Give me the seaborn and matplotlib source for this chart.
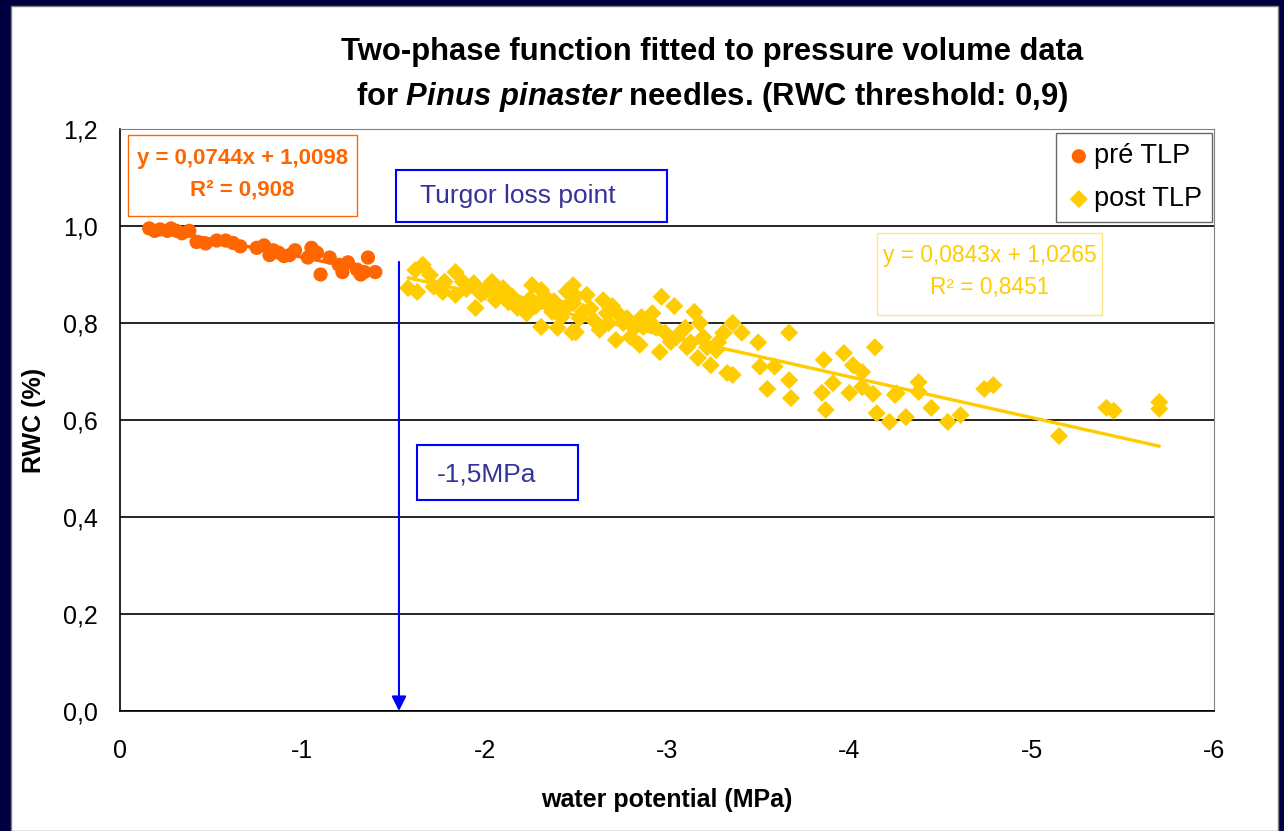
import numpy as np
import pandas as pd
import seaborn as sns
import matplotlib.pyplot as plt
from matplotlib.patches import Rectangle
from matplotlib.ticker import FuncFormatter, MultipleLocator

# pre turgor loss point (orange circles)
pre_x = [-0.16, -0.19, -0.22, -0.26, -0.28, -0.31, -0.34, -0.38, -0.42, -0.47, -0.53, -0.58,
         -0.62, -0.66, -0.75, -0.79, -0.82, -0.84, -0.87, -0.90, -0.93, -0.96, -1.03, -1.05,
         -1.08, -1.10, -1.15, -1.20, -1.22, -1.25, -1.30, -1.32, -1.34, -1.36, -1.40]
pre_y = [0.995, 0.990, 0.993, 0.990, 0.995, 0.990, 0.985, 0.990, 0.967, 0.964, 0.970, 0.970,
         0.965, 0.958, 0.955, 0.960, 0.940, 0.950, 0.945, 0.938, 0.940, 0.950, 0.935, 0.955,
         0.945, 0.900, 0.935, 0.920, 0.905, 0.925, 0.910, 0.900, 0.905, 0.935, 0.905]

# post turgor loss point (gold diamonds)
post_x = [-1.58, -1.63, -1.66, -1.62, -1.70, -1.78, -1.77, -1.84, -1.88, -1.84, -1.94, -1.95,
          -2.00, -2.04, -2.06, -2.10, -2.13, -2.18, -2.23, -2.26, -2.31, -2.34, -2.31, -2.37,
          -2.42, -2.46, -2.40, -2.48,
          -2.485, -2.56, -2.485, -2.54, -2.65, -2.67, -2.73, -2.50, -2.63, -2.72, -2.80, -2.86,
          -2.92, -2.87, -2.85, -2.97, -3.04, -2.96, -3.02, -3.07, -3.11, -3.15, -3.18, -3.20,
          -3.17, -3.24, -3.27, -3.31, -3.33,
          -3.36, -3.31, -3.41, -3.50, -3.67, -3.36, -3.51, -3.59, -3.55, -3.67, -3.68, -3.86,
          -3.91, -3.85, -3.87, -3.97, -4.02, -4.07, -4.14, -4.00, -4.07, -4.13, -4.15, -4.22,
          -4.25, -4.26, -4.31, -4.38, -4.38, -4.45, -4.54, -4.61, -4.74, -4.79, -5.15, -5.41,
          -5.45, -5.70, -5.70,
          -1.72, -1.90, -1.98, -2.02, -2.08, -2.15, -2.20, -2.25, -2.28, -2.33, -2.38, -2.43,
          -2.45, -2.50, -2.52, -2.58, -2.60, -2.68, -2.70, -2.76, -2.78, -2.82, -2.90, -2.94,
          -2.99, -3.05, -3.10, -3.13, -3.22, -3.28]
post_y = [0.872, 0.864, 0.920, 0.909, 0.899, 0.885, 0.864, 0.905, 0.885, 0.858, 0.882, 0.831,
          0.864, 0.885, 0.847, 0.872, 0.843, 0.831, 0.820, 0.878, 0.868, 0.843, 0.792, 0.823,
          0.812, 0.837, 0.790, 0.781,
          0.878, 0.858, 0.841, 0.823, 0.847, 0.820, 0.820, 0.781, 0.786, 0.765, 0.771, 0.812,
          0.820, 0.792, 0.755, 0.854, 0.835, 0.740, 0.761, 0.779, 0.750, 0.823, 0.800, 0.771,
          0.728, 0.713, 0.744, 0.779, 0.697,
          0.800, 0.780, 0.780, 0.760, 0.780, 0.693, 0.710, 0.710, 0.664, 0.682, 0.645, 0.724,
          0.676, 0.656, 0.621, 0.738, 0.713, 0.699, 0.750, 0.656, 0.668, 0.654, 0.614, 0.596,
          0.652, 0.655, 0.606, 0.678, 0.658, 0.625, 0.596, 0.610, 0.664, 0.672, 0.567, 0.625,
          0.619, 0.637, 0.623,
          0.875, 0.870, 0.860, 0.875, 0.860, 0.855, 0.840, 0.850, 0.835, 0.855, 0.845, 0.830,
          0.865, 0.855, 0.810, 0.830, 0.805, 0.800, 0.835, 0.800, 0.810, 0.790, 0.800, 0.790,
          0.780, 0.770, 0.790, 0.760, 0.750, 0.760]

# trendline coefficients (slope, intercept) and R2 as printed on the chart
pre_fit = (0.0744, 1.0098, "0,908")
post_fit = (0.0843, 1.0265, "0,8451")
tlp_x = -1.53

orange = "#FF6600"
gold = "#FFCC00"
navy = "#000040"

sns.set_style("white")
plt.rcParams["font.family"] = ["Liberation Sans", "DejaVu Sans"]
plt.rcParams["text.color"] = "black"
plt.rcParams["axes.labelcolor"] = "black"
plt.rcParams["axes.unicode_minus"] = False
plt.rcParams["mathtext.fontset"] = "custom"
plt.rcParams["mathtext.it"] = "Liberation Sans:italic:bold"
plt.rcParams["mathtext.rm"] = "Liberation Sans:bold"

fig = plt.figure(figsize=(12.84, 8.31), dpi=100, facecolor=navy)
fig.patches.append(Rectangle((11 / 1284, 0), 1267 / 1284, 825 / 831, transform=fig.transFigure,
                             facecolor="white", edgecolor="#808080", lw=1, zorder=-5))
ax = fig.add_axes([120 / 1284, 1 - 711 / 831, 1094 / 1284, 582 / 831])

pre = pd.DataFrame({"x": pre_x, "y": pre_y})
post = pd.DataFrame({"x": post_x, "y": post_y})

sns.scatterplot(data=pre, x="x", y="y", ax=ax, color=orange, marker="o", s=105,
                edgecolor="none", label="pré TLP", zorder=3)
sns.scatterplot(data=post, x="x", y="y", ax=ax, color=gold, marker="D", s=85,
                edgecolor="none", label="post TLP", zorder=3)

for df, fit, col in [(pre, pre_fit, orange), (post, post_fit, gold)]:
    xs = np.linspace(df["x"].max(), df["x"].min(), 50)
    line = pd.DataFrame({"x": xs, "y": fit[0] * xs + fit[1]})
    sns.lineplot(data=line, x="x", y="y", ax=ax, color=col, lw=2.4, zorder=4, legend=False)

ax.set_xlim(0, -6)
ax.set_ylim(0, 1.2)
ax.xaxis.set_major_locator(MultipleLocator(1))
ax.yaxis.set_major_locator(MultipleLocator(0.2))
ax.yaxis.set_major_formatter(FuncFormatter(lambda v, p: f"{v:.1f}".replace(".", ",")))
ax.xaxis.set_major_formatter(FuncFormatter(lambda v, p: f"{v:.0f}" if abs(v) > 1e-9 else "0"))
ax.grid(axis="y", color="black", lw=1.2)
ax.set_axisbelow(True)
for side in ["left", "bottom"]:
    ax.spines[side].set_color("black")
    ax.spines[side].set_linewidth(1.2)
for side in ["top", "right"]:
    ax.spines[side].set_color("#808080")
ax.tick_params(axis="both", direction="out", length=5, width=1.2, colors="black", labelsize=18)
ax.tick_params(axis="x", pad=15)
ax.tick_params(axis="y", pad=11)
ax.set_xlabel("water potential (MPa)", fontsize=18, fontweight="bold", labelpad=18)
ax.set_ylabel("RWC (%)", fontsize=18, fontweight="bold", labelpad=12)

fig.text(712 / 1284, 1 - 52 / 831, "Two-phase function fitted to pressure volume data",
         ha="center", va="center", fontsize=22.3, fontweight="bold")
fig.text(712 / 1284, 1 - 97 / 831, r"for $\mathit{Pinus\ pinaster}$ needles. (RWC threshold: 0,9)",
         ha="center", va="center", fontsize=22.3, fontweight="bold")

# equation boxes
ax.add_patch(Rectangle((0.0073, 0.8505), 0.2093, 0.1392, transform=ax.transAxes,
                       facecolor="white", edgecolor=orange, lw=1, zorder=5))
ax.text(0.1120, 0.950, "y = 0,0744x + 1,0098", transform=ax.transAxes, ha="center", va="center",
        color=orange, fontsize=16, fontweight="bold", zorder=6)
ax.text(0.1120, 0.895, "R² = " + pre_fit[2], transform=ax.transAxes, ha="center", va="center",
        color=orange, fontsize=16, fontweight="bold", zorder=6)

ax.add_patch(Rectangle((0.692, 0.6804), 0.2056, 0.1409, transform=ax.transAxes,
                       facecolor="white", edgecolor="#FFE680", lw=1, zorder=5))
ax.text(0.795, 0.7818, "y = 0,0843x + 1,0265", transform=ax.transAxes, ha="center", va="center",
        color=gold, fontsize=16.4, zorder=6)
ax.text(0.795, 0.7285, "R² = " + post_fit[2], transform=ax.transAxes, ha="center", va="center",
        color=gold, fontsize=16.4, zorder=6)

# turgor loss point marks
ax.add_patch(Rectangle((0.2523, 0.8402), 0.2477, 0.0894, transform=ax.transAxes,
                       facecolor="white", edgecolor="blue", lw=1.5, zorder=5))
ax.text(0.2742, 0.8849, "Turgor loss point", transform=ax.transAxes, ha="left", va="center",
        color="#333399", fontsize=19, zorder=6)
ax.add_patch(Rectangle((0.2715, 0.3625), 0.1471, 0.0945, transform=ax.transAxes,
                       facecolor="white", edgecolor="blue", lw=1.5, zorder=5))
ax.text(0.2898, 0.4072, "-1,5MPa", transform=ax.transAxes, ha="left", va="center",
        color="#333399", fontsize=19, zorder=6)
ax.annotate("", xy=(tlp_x, 0), xytext=(tlp_x, 0.926),
            arrowprops=dict(arrowstyle="-|>", color="blue", lw=1.5, mutation_scale=22,
                            shrinkA=0, shrinkB=0), zorder=6)

leg = ax.legend(loc="upper right", bbox_to_anchor=(0.9982, 0.993), fontsize=19.5, frameon=True,
                fancybox=False, edgecolor="#404040", borderaxespad=0, handletextpad=0.1,
                handlelength=0.9, labelspacing=0.62, borderpad=0.38)
leg.get_frame().set_linewidth(1)

fig.savefig("out.png", dpi=100, facecolor=navy)
